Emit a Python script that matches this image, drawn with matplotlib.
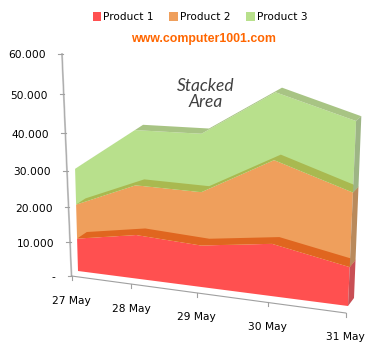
#!/usr/bin/env python3
import numpy as np
import matplotlib
matplotlib.use('Agg')
import matplotlib.pyplot as plt
from matplotlib.patches import Polygon, Patch

dates = ['27 May', '28 May', '29 May', '30 May', '31 May']
product1 = [9.7, 12.5, 11.4, 13.7, 9.8]
product2 = [10.0, 13.9, 14.3, 21.2, 18.2]
product3 = [10.3, 15.0, 15.2, 16.5, 16.8]
names = ['Product 1', 'Product 2', 'Product 3']
tick_values = [0, 10, 20, 30, 40, 50, 60]
tick_labels = ['-', '10.000', '20.000', '30.000', '40.000', '50.000', '60.000']

front_col = ['#ff5050', '#ef9f5c', '#b8e08c']
top_col = ['#e0661f', '#a9b950', '#a8c484']
side_col = ['#c94f55', '#b98a5c', '#9db585']


# the 3d look: each plane is a homography from (date index, value) to pixels
def plane(corners):
    src = [(0, 0), (4, 0), (0, 60), (4, 60)]
    A, b = [], []
    for (u, v), (x, y) in zip(src, corners):
        A.append([u, v, 1, 0, 0, 0, -u*x, -v*x])
        A.append([0, 0, 0, u, v, 1, -u*y, -v*y])
        b += [x, y]
    h = np.append(np.linalg.solve(np.array(A, float), np.array(b, float)), 1).reshape(3, 3)

    def project(u, v):
        u, v = np.broadcast_arrays(np.asarray(u, float), np.asarray(v, float))
        w = h[2, 0]*u + h[2, 1]*v + h[2, 2]
        return np.column_stack([(h[0, 0]*u + h[0, 1]*v + h[0, 2]) / w,
                                (h[1, 0]*u + h[1, 1]*v + h[1, 2]) / w])
    return project


front = plane([(78, 271), (348, 306), (72, 61), (359, 54)])
back = plane([(88, 264), (354, 298), (80, 56), (364, 50)])
wall = plane([(71.5, 276), (345.7, 313), (62, 54), (372, 48)])

fig = plt.figure(figsize=(3.88, 3.54), dpi=100)
ax = fig.add_axes([0, 0, 1, 1])
ax.set_xlim(0, 388)
ax.set_ylim(354, 0)
ax.axis('off')

idx = np.arange(len(dates))
stack = np.cumsum([product1, product2, product3], axis=0)
lower = np.vstack([np.zeros(len(dates)), stack[:-1]])

# axes
axis_col = '#a0a0a0'
ax.plot(*wall([0, 0], [0, 60]).T, color='#cccccc', lw=1.4, zorder=1)
ax.plot(*wall([0, 0], [0, 60]).T, color=axis_col, lw=0.5, zorder=1)
ax.plot(*wall([0, 4], [0, 0]).T, color=axis_col, lw=0.8, zorder=1)
for val, lab in zip(tick_values, tick_labels):
    x, y = wall(0, val)[0]
    ax.plot([x - 4, x + 0.5], [y, y], color=axis_col, lw=0.8, zorder=1)
    ax.text(x - 16, y + 1.5, lab, ha='right', va='center', fontsize=7.7, color='black')
for i, lab in zip(idx, dates):
    x, y = wall(i, 0)[0]
    ax.plot([x, x], [y, y + 4], color=axis_col, lw=0.8, zorder=1)
    ax.text(x - 0.5, y + 24.5, lab, ha='center', va='center', fontsize=7.7, color='black')

# series fronts, then the top and side faces
for k in range(3):
    poly = np.vstack([front(idx, stack[k]), front(idx[::-1], lower[k][::-1])])
    ax.add_patch(Polygon(poly, fc=front_col[k], ec='none', zorder=2))
for k in range(3):
    poly = np.vstack([front(idx, stack[k]), back(idx[::-1], stack[k][::-1])])
    ax.add_patch(Polygon(poly, fc=top_col[k], ec='none', zorder=3))
    poly = np.vstack([front(4, stack[k][4]), back(4, stack[k][4]),
                      back(4, lower[k][4]), front(4, lower[k][4])])
    ax.add_patch(Polygon(poly, fc=side_col[k], ec='none', zorder=3))

handles = [Patch(fc=c, ec='none') for c in front_col]
ax.legend(handles, names, loc='center', bbox_to_anchor=(200 / 388, 1 - 17 / 354), ncol=3,
          frameon=False, fontsize=7.6, handlelength=0.8, handleheight=0.95, handletextpad=0.2,
          columnspacing=1.5, borderpad=0)

ax.text(203, 39, 'www.computer1001.com', ha='center', va='center', fontsize=8.9,
        fontweight='bold', family='Liberation Sans', color='#ff6600')
ax.text(206, 94, 'Stacked\nArea', ha='center', va='center', fontsize=12.5, style='italic',
        family='Lato', color='#404040', linespacing=1.0)

fig.savefig('out.png', dpi=100)
